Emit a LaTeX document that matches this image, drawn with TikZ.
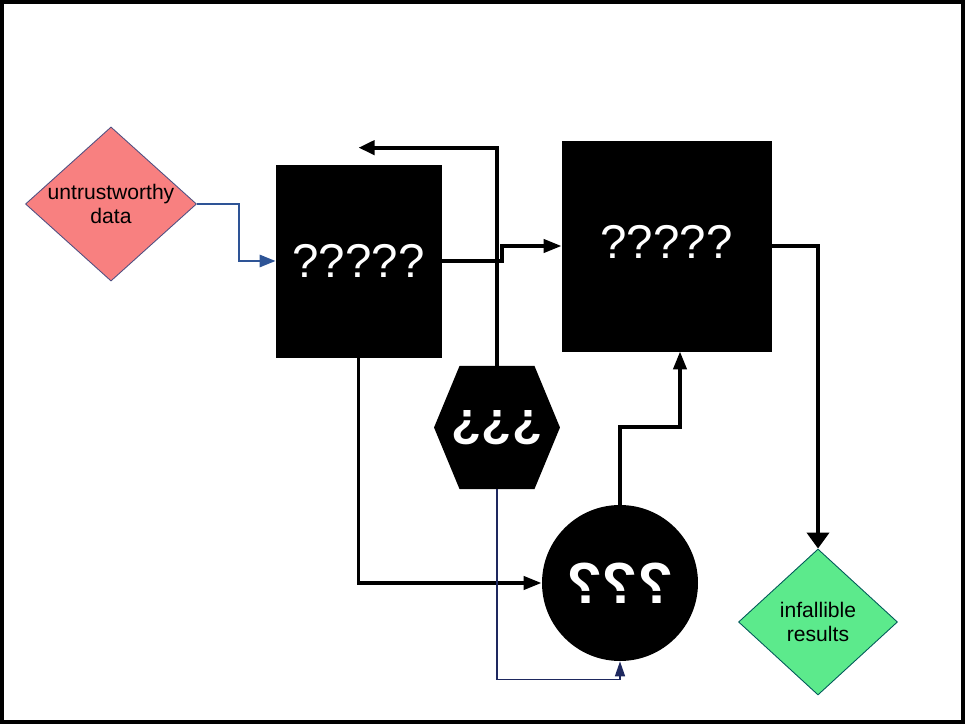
\documentclass[tikz,border=0pt]{standalone}
\usepackage{fontspec}
\setmainfont{Liberation Sans}
\usepackage{graphicx}
\usetikzlibrary{arrows.meta,shapes.geometric,shapes.symbols}

\definecolor{pinkfill}{RGB}{248,128,128}
\definecolor{greenfill}{RGB}{92,234,140}
\definecolor{linkblue}{RGB}{46,84,150}
\definecolor{navyline}{RGB}{30,40,95}
\definecolor{edgegrey}{RGB}{80,80,130}

\tikzset{
  datanode/.style={diamond, draw=edgegrey, line width=0.5pt, align=center, inner sep=0pt, font=\fontsize{12}{14}\selectfont},
  blackbox/.style={rectangle, fill=black, draw=black, text=white, inner sep=0pt, font=\fontsize{27}{30}\selectfont},
  link/.style={line width=2.2pt, -{Triangle[length=0.36cm,width=0.26cm]}},
}

\begin{document}
\begin{tikzpicture}

\useasboundingbox (0,0) rectangle (19.3,14.48);
\draw[line width=2.2pt] (0.04,0.04) rectangle (19.26,14.44);

\node[datanode, fill=pinkfill, minimum width=3.36cm, minimum height=3.02cm, aspect=1.11] (untrusted) at (2.22,10.40) {untrustworthy\\data};
\node[blackbox, minimum width=3.30cm, minimum height=3.84cm] (boxa) at (7.17,9.26) {?????};
\node[blackbox, minimum width=4.18cm, minimum height=4.20cm] (boxb) at (13.33,9.56) {\raisebox{0.16cm}{?????}};
\node[signal, signal to=east and west, signal pointer angle=135, fill=black, text=white, inner sep=0pt, minimum height=2.46cm, font=\fontsize{28}{30}\bfseries\selectfont] (hexa) at (9.94,5.93) {\makebox[1.5cm]{¿¿¿}};
\node[circle, fill=black, text=white, inner sep=0pt, minimum size=3.12cm, font=\fontsize{33}{36}\bfseries\selectfont] (circa) at (12.40,2.82) {\reflectbox{???}};
\node[datanode, fill=greenfill, draw=teal!70!black, minimum width=3.18cm, minimum height=2.92cm, aspect=1.09] (results) at (16.36,2.04) {infallible\\results};

\coordinate (loopend) at ([yshift=0.34cm]boxa.north);

\draw[line width=1.6pt, linkblue, -{Triangle[length=0.32cm,width=0.24cm]}] (untrusted.east) -- ++(0.84,0) |- (boxa.west);
\draw[link] (boxa.east) -- ++(1.22,0) |- (boxb.west);
\draw[link, -{Triangle[length=0.32cm,width=0.28cm]}] (hexa.north) |- (loopend);
\draw[link] (boxa.south) |- (circa.west);
\draw[line width=0.9pt, navyline, -{Triangle[length=0.3cm,width=0.2cm]}] (hexa.south) -- ++(0,-3.80) -| (circa.south);
\draw[link] (circa.north) -- ++(0,1.56) -| ([xshift=0.27cm]boxb.south);
\draw[link, -{Triangle[length=0.32cm,width=0.44cm]}] (boxb.east) -| (results.north);

\end{tikzpicture}
\end{document}
